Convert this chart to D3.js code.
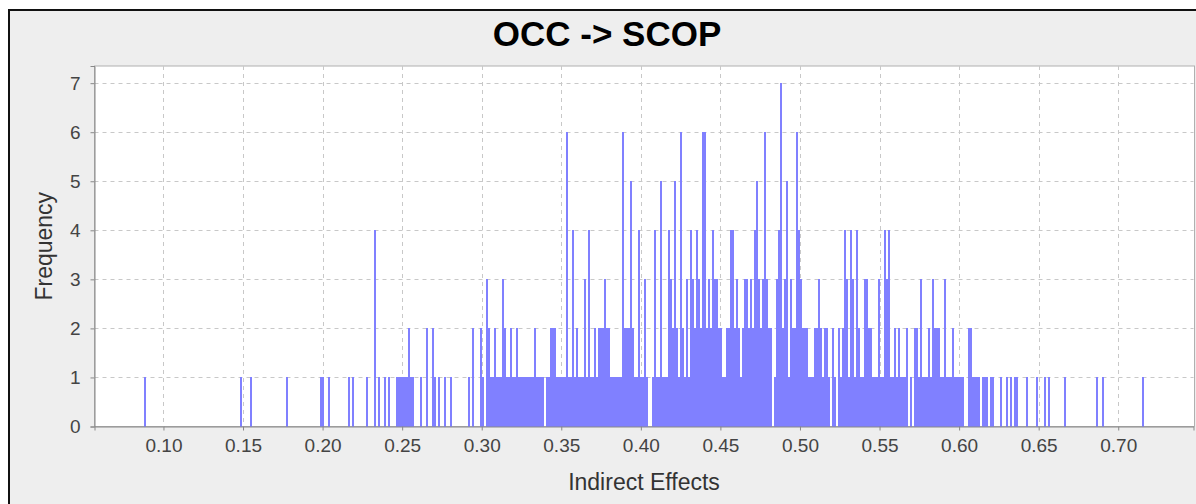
<!DOCTYPE html>
<meta charset="utf-8">
<style type="text/css">
body {
  margin: 0;
  background: #fff;
  font-family: "Liberation Sans", Arial, sans-serif;
}

.title {
  font-size: 35px;
  font-weight: bold;
  fill: #000;
}

.label {
  font-size: 23px;
  fill: #333;
}

.axis text {
  font-size: 19px;
  fill: #444;
  font-family: "Liberation Sans", Arial, sans-serif;
}

.axis path,
.axis line {
  fill: none;
  stroke: #888;
  stroke-width: 1px;
}

.grid line {
  stroke: #c8c8c8;
  stroke-width: 1px;
  stroke-dasharray: 4,4;
}

.bar {
  fill: #8080ff;
  shape-rendering: crispEdges;
}
</style>
<body>
</body>

<script src="https://cdn.jsdelivr.net/npm/d3@7"></script>
<script>
var title = "OCC -> SCOP";
var xLabel = "Indirect Effects";
var yLabel = "Frequency";

// histogram: 500 bins from the smallest to the largest indirect effect
var effectMin = 0.08806;
var effectMax = 0.71591;

// counts per bin, 50 bins a line
var countRows = [
  "10000000000000000000000000000000000000000000000010",
  "00010000000000000000010000000000000000110010000000",
  "00101000000100040100101000111111211000100200210100",
  "10010000000010200021032112111321121121111111121111",
  "01122211111611412111314112122232211111162225211411",
  "31001411511143252162131432432662324332211224423212",
  "33232453236322013472351322643222111223212210210212",
  "43143142113322111311434112121112010221311121322211",
  "31112111110022111101110110001001010110000100001000",
  "10100000001000000000000000100100000000000000000001"
];

var xTicks = [0.10, 0.15, 0.20, 0.25, 0.30, 0.35, 0.40, 0.45, 0.50, 0.55, 0.60, 0.65, 0.70];
var yTicks = [0, 1, 2, 3, 4, 5, 6, 7];

var counts = countRows.join("").split("").map(Number);
var binWidth = (effectMax - effectMin) / counts.length;
var bins = counts.map(function(c, i) {
  return { x0: effectMin + i * binWidth, x1: effectMin + (i + 1) * binWidth, count: c };
});

var W = 1196, H = 504;
var plot = { left: 94.5, top: 66, right: 1193.5, bottom: 426.5 };

var svg = d3.select("body")
  .append("svg")
    .attr("width", W)
    .attr("height", H);

// chart panel
svg.append("rect")
  .attr("x", 9)
  .attr("y", 10)
  .attr("width", 1210)
  .attr("height", 520)
  .attr("fill", "#eeeeee")
  .attr("stroke", "#111")
  .attr("stroke-width", 2);

var pad = (effectMax - effectMin) * 0.05;
var xscale = d3.scaleLinear()
  .domain([effectMin - pad, effectMax + pad])
  .range([plot.left, plot.right]);

var yscale = d3.scaleLinear()
  .domain([0, d3.max(counts) * 1.05])
  .range([plot.bottom, plot.top]);

svg.append("rect")
  .attr("x", plot.left)
  .attr("y", plot.top)
  .attr("width", plot.right - plot.left + 1)
  .attr("height", plot.bottom - plot.top)
  .attr("fill", "#fff")
  .attr("stroke", "#b0b0b0")
  .attr("stroke-width", 1);

// dashed grid
svg.append("g")
  .attr("class", "grid")
  .selectAll("line.gx")
  .data(xTicks)
  .enter().append("line")
    .attr("x1", function(d) { return Math.round(xscale(d)) + 0.5; })
    .attr("x2", function(d) { return Math.round(xscale(d)) + 0.5; })
    .attr("y1", plot.top)
    .attr("y2", plot.bottom);

svg.append("g")
  .attr("class", "grid")
  .selectAll("line.gy")
  .data(yTicks.filter(function(d) { return d > 0; }))
  .enter().append("line")
    .attr("x1", plot.left)
    .attr("x2", plot.right)
    .attr("y1", function(d) { return Math.round(yscale(d)) + 0.5; })
    .attr("y2", function(d) { return Math.round(yscale(d)) + 0.5; });

svg.append("g")
  .selectAll("rect.bar")
  .data(bins.filter(function(d) { return d.count > 0; }))
  .enter().append("rect")
    .attr("class", "bar")
    .attr("x", function(d) { return Math.round(xscale(d.x0)); })
    .attr("width", function(d) { return Math.max(1, Math.round(xscale(d.x1)) - Math.round(xscale(d.x0))); })
    .attr("y", function(d) { return Math.round(yscale(d.count)); })
    .attr("height", function(d) { return Math.round(yscale(0)) - Math.round(yscale(d.count)); });

var xAxis = d3.axisBottom(xscale)
  .tickValues(xTicks)
  .tickSize(4)
  .tickPadding(8)
  .tickFormat(d3.format(".2f"));

var yAxis = d3.axisLeft(yscale)
  .tickValues(yTicks)
  .tickSize(4)
  .tickPadding(10)
  .tickFormat(d3.format("d"));

svg.append("g")
  .attr("class", "x axis")
  .attr("transform", "translate(0," + plot.bottom + ")")
  .call(xAxis)
  .call(function(g) { g.select(".domain").attr("stroke", "#888").attr("stroke-width", 2); });

svg.append("g")
  .attr("class", "y axis")
  .attr("transform", "translate(" + plot.left + ",0)")
  .call(yAxis)
  .call(function(g) { g.select(".domain").attr("stroke", "#888").attr("stroke-width", 2); });

svg.append("text")
  .attr("class", "title")
  .attr("x", 607)
  .attr("y", 46)
  .attr("text-anchor", "middle")
  .text(title);

svg.append("text")
  .attr("class", "label")
  .attr("x", (plot.left + plot.right) / 2)
  .attr("y", 490)
  .attr("text-anchor", "middle")
  .text(xLabel);

svg.append("text")
  .attr("class", "label")
  .attr("transform", "translate(52," + (plot.top + plot.bottom) / 2 + ") rotate(-90)")
  .attr("text-anchor", "middle")
  .text(yLabel);
</script>
